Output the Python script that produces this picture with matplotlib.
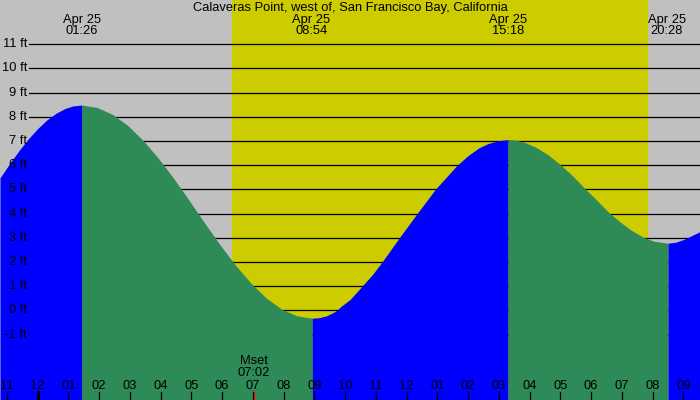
import matplotlib
matplotlib.use('Agg')
import matplotlib.pyplot as plt
import numpy as np

plt.rcParams['font.family'] = ['Liberation Sans', 'DejaVu Sans']

# water level (hours after Apr 25 00:00, feet)
tide_t = [-1.22, -0.9, -0.6, -0.3, 0.0, 0.3, 0.6, 0.9, 1.15, 1.43,
          1.93, 2.43, 2.93, 3.43, 3.93, 4.43, 4.93, 5.43, 5.93, 6.43,
          6.93, 7.43, 7.93, 8.43, 8.93,
          9.15, 9.4, 9.67, 9.9, 10.16, 10.55, 10.9, 11.2, 11.76, 12.34,
          12.93, 13.64, 14.0, 14.35, 14.65, 15.0, 15.3,
          15.55, 15.85, 16.2, 16.6, 16.99, 17.4, 17.77, 18.15, 18.55, 18.95,
          19.3, 19.69, 20.05, 20.5,
          20.75, 21.0, 21.25, 21.54]
tide_h = [5.48, 6.08, 6.61, 7.09, 7.51, 7.87, 8.15, 8.35, 8.45, 8.49,
          8.39, 8.11, 7.65, 7.03, 6.29, 5.45, 4.55, 3.62, 2.72, 1.88,
          1.14, 0.52, 0.06, -0.22, -0.32,
          -0.30, -0.22, -0.05, 0.2, 0.45, 1.0, 1.5, 2.0, 3.0, 4.0,
          5.0, 6.0, 6.4, 6.72, 6.9, 7.02, 7.06,
          7.04, 6.94, 6.75, 6.43, 6.04, 5.56, 5.07, 4.6, 4.08, 3.65,
          3.32, 3.03, 2.86, 2.78,
          2.82, 2.93, 3.08, 3.26]

# high / low events
event_t = [1.433, 8.9, 15.3, 20.467]
event_lbl = ['01:26', '08:54', '15:18', '20:28']
split_t = [1.43, 8.93, 15.30, 20.50]

sunrise, sunset = 6.32, 19.82
moonset_t, moonset_lbl = 7.033, '07:02'

hours = list(range(-1, 22))
ft_levels = list(range(-1, 12))

title = 'Calaveras Point, west of, San Francisco Bay, California'

t = np.array(tide_t)
h = np.array(tide_h)
fs = 9.3

fig = plt.figure(figsize=(7, 4), dpi=100)
ax = fig.add_axes([0, 0, 1, 1])
ax.set_xlim(-1.22, 21.54)
ax.set_ylim(-3.70, 12.83)
ax.axis('off')
fig.patch.set_facecolor('#c0c0c0')

# daylight
ax.axvspan(sunrise, sunset, color='#cccc00', zorder=0)

# grid lines + labels
ytr = matplotlib.transforms.blended_transform_factory(ax.transAxes, ax.transData)
for v in ft_levels:
    ax.axhline(v, xmin=29/700, color='black', lw=0.9, zorder=1)
    ax.text(27/700, v, f'{v} ft', transform=ytr, ha='right', va='center',
            fontsize=fs, zorder=4)

# water, blue rising, green falling
bounds = [-10] + split_t + [30]
colors = ['#0000ff', '#2e8b57', '#0000ff', '#2e8b57', '#0000ff']
for i in range(len(colors)):
    m = (t >= bounds[i]) & (t <= bounds[i + 1])
    ax.fill_between(t, h, -5, where=m, color=colors[i], lw=0, zorder=2)

xtr = ax.get_xaxis_transform()
ax.text(0.5, 1 - 7.5/400, title, transform=ax.transAxes, ha='center', va='center', fontsize=fs)
for et, lbl in zip(event_t, event_lbl):
    ax.text(et, 1 - 19.5/400, 'Apr 25', transform=xtr, ha='center', va='center', fontsize=fs)
    ax.text(et, 1 - 31.5/400, lbl, transform=xtr, ha='center', va='center', fontsize=fs)

# hour ticks
for hr in hours:
    lw = 2.0 if hr == 0 else 0.9
    ax.plot([hr, hr], [0, 8/400], transform=xtr, color='black', lw=lw, zorder=5)
    lab = '%02d' % ((hr % 12) or 12)
    ax.text(hr, 14/400, lab, transform=xtr, ha='center', va='center', fontsize=fs, zorder=5)

# moonset
ax.plot([moonset_t, moonset_t], [0, 8/400], transform=xtr, color='red', lw=0.9, zorder=6)
ax.text(moonset_t, 1 - 361.5/400, 'Mset', transform=xtr, ha='center', va='center', fontsize=fs, zorder=5)
ax.text(moonset_t, 1 - 373.5/400, moonset_lbl, transform=xtr, ha='center', va='center', fontsize=fs, zorder=5)

fig.savefig('out.png', dpi=100, facecolor=fig.get_facecolor())
